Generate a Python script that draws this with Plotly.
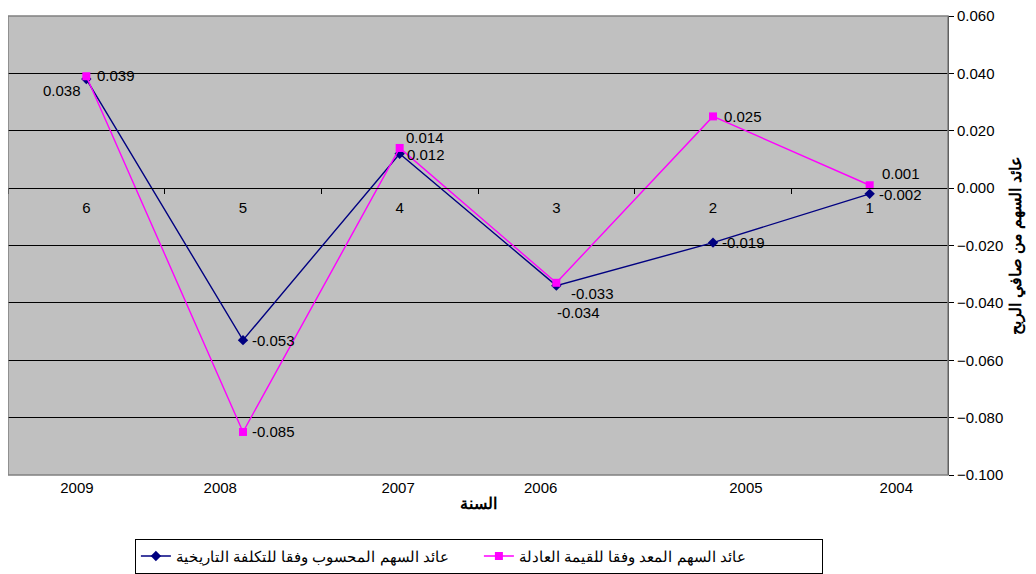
import plotly.graph_objects as go

# Datos
anios = ["2009", "2008", "2007", "2006", "2005", "2004"]
indices = ["6", "5", "4", "3", "2", "1"]
costo_historico = [0.038, -0.053, 0.012, -0.034, -0.019, -0.002]
valor_razonable = [0.039, -0.085, 0.014, -0.033, 0.025, 0.001]

nombre_hist = "عائد السهم المحسوب وفقا للتكلفة التاريخية"
nombre_just = "عائد السهم المعد وفقا للقيمة العادلة"
titulo_y = "عائد السهم من صافي الربح"
titulo_x = "السنة"

# posiciones (en unidades de categoria) de las etiquetas de anios del eje inferior
pos_anios = [-0.06, 0.855, 1.99, 2.90, 4.21, 5.17]

# desplazamientos (px) de las etiquetas de datos: (xanchor, xshift, yshift)
desp_hist = [("right", -3, -11), ("left", 7, 0), ("left", 5, -1),
             ("left", -1, -27), ("left", 7, 0), ("left", 7, -1)]
desp_just = [("left", 9, 1), ("left", 7, 0), ("left", 4, 10),
             ("left", 13, -11), ("left", 9, 0), ("left", 10, 12)]

fuente = "Liberation Sans, Arial, sans-serif"

fig = go.Figure()

fig.add_trace(go.Scatter(
    x=anios, y=costo_historico,
    mode="lines+markers",
    name=nombre_hist,
    line=dict(color="#000080", width=1.4),
    marker=dict(symbol="diamond", size=8, color="#000080"),
    hoverinfo="skip",
))
fig.add_trace(go.Scatter(
    x=anios, y=valor_razonable,
    mode="lines+markers",
    name=nombre_just,
    line=dict(color="#FF00FF", width=1.4),
    marker=dict(symbol="square", size=8, color="#FF00FF"),
    hoverinfo="skip",
))
# trazas invisibles para que se dibujen los ejes auxiliares
fig.add_trace(go.Scatter(
    x=indices, y=[0] * len(indices),
    xaxis="x3", mode="markers",
    marker=dict(opacity=0),
    showlegend=False, hoverinfo="skip",
))
fig.add_trace(go.Scatter(
    x=pos_anios, y=[0] * len(pos_anios),
    xaxis="x2", mode="markers",
    marker=dict(opacity=0),
    showlegend=False, hoverinfo="skip",
))

# etiquetas de datos (x = indice de la categoria)
for serie, desp in ((costo_historico, desp_hist), (valor_razonable, desp_just)):
    for i, (valor, (xa, dx, dy)) in enumerate(zip(serie, desp)):
        fig.add_annotation(
            x=i, y=valor, xref="x", yref="y",
            text=f"{valor:.3f}", showarrow=False,
            xanchor=xa, yanchor="middle",
            xshift=dx, yshift=dy,
            font=dict(size=15, color="black", family=fuente),
        )

# la pagina tiene 8px de margen en el body: figura algo mas pequena
fig.update_layout(
    width=1028, height=566,
    margin=dict(l=0, r=88, t=8, b=99),
    paper_bgcolor="white",
    plot_bgcolor="#C0C0C0",
    font=dict(family=fuente, size=15, color="black"),
    showlegend=True,
    legend=dict(
        orientation="h",
        x=0.135, xanchor="left",
        y=-0.139, yanchor="top",
        bordercolor="black", borderwidth=1,
        font=dict(size=15, family=fuente),
        entrywidth=298, entrywidthmode="pixels",
        bgcolor="white",
    ),
    xaxis=dict(
        type="category",
        range=[-0.5, 5.5],
        showticklabels=False,
        showgrid=False, zeroline=False,
        ticks="", automargin=False,
    ),
    xaxis2=dict(
        overlaying="x",
        anchor="y",
        side="bottom",
        range=[-0.5, 5.5],
        tickmode="array",
        tickvals=pos_anios,
        ticktext=anios,
        ticks="",
        ticklabelstandoff=2,
        showgrid=False, zeroline=False,
        tickfont=dict(size=15),
        automargin=False,
        title=dict(text="<b>" + titulo_x + "</b>", font=dict(size=16), standoff=2),
    ),
    xaxis3=dict(
        type="category",
        overlaying="x",
        anchor="free",
        position=0.625,
        side="bottom",
        range=[-0.5, 5.5],
        showline=True, linecolor="black", linewidth=1,
        ticks="outside", tickson="boundaries",
        ticklen=5, tickcolor="black",
        ticklabelstandoff=6,
        showgrid=False, zeroline=False,
        tickfont=dict(size=15),
        automargin=False,
    ),
    yaxis=dict(
        side="right",
        range=[-0.1, 0.06],
        tickmode="array",
        tickvals=[-0.1, -0.08, -0.06, -0.04, -0.02, 0, 0.02, 0.04, 0.06],
        tickformat=".3f",
        ticklabeloverflow="allow",
        showgrid=True, gridcolor="black", gridwidth=1,
        zeroline=False,
        showline=True, linecolor="black", linewidth=1,
        ticks="outside", ticklen=5, tickcolor="black",
        tickfont=dict(size=15),
        automargin=False,
        title=dict(text="<b>" + titulo_y + "</b>", font=dict(size=16), standoff=7),
    ),
)

# borde gris del area de trazado
fig.add_shape(type="rect", xref="paper", yref="paper",
              x0=0, x1=1, y0=0, y1=1,
              line=dict(color="#808080", width=1.5), layer="above")

fig.write_html("out.html")
